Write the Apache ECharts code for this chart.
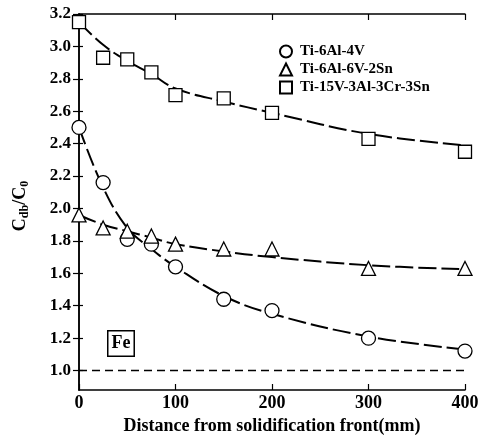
<!DOCTYPE html>
<html>
<head>
<meta charset="utf-8">
<script src="https://cdn.jsdelivr.net/npm/echarts@6/dist/echarts.min.js"></script>
<style>
  html, body { margin: 0; padding: 0; background: #fff; }
  #chart { width: 483px; height: 442px; }
</style>
</head>
<body>
<div id="chart"></div>
<script>
// distance from solidification front (mm)
const distances = [0, 25, 50, 75, 100, 150, 200, 300, 400]
// measured Cdb/C0
const ti64 = [2.50, 2.16, 1.81, 1.78, 1.64, 1.44, 1.37, 1.20, 1.12]
const ti662 = [1.96, 1.88, 1.86, 1.83, 1.78, 1.75, 1.75, 1.63, 1.63]
const ti15333 = [3.15, 2.93, 2.92, 2.84, 2.70, 2.68, 2.59, 2.43, 2.35]
// fitted curves
const ti64Fit = [2.50, 2.13, 1.88, 1.75, 1.64, 1.46, 1.35, 1.21, 1.13]
const ti662Fit = [1.96, 1.90, 1.86, 1.82, 1.78, 1.735, 1.70, 1.65, 1.625]
const ti15333Fit = [3.15, 3.01, 2.91, 2.83, 2.74, 2.66, 2.59, 2.46, 2.39]
const yTicks = [1.0, 1.2, 1.4, 1.6, 1.8, 2.0, 2.2, 2.4, 2.6, 2.8, 3.0, 3.2]
const xTicks = [0, 100, 200, 300, 400]
const baseLine = 1.0

const names = ['Ti-6Al-4V', 'Ti-6Al-6V-2Sn', 'Ti-15V-3Al-3Cr-3Sn']
const FONT = '"Liberation Serif", "Times New Roman", serif'

const pairs = arr => distances.map((x, i) => [x, arr[i]])

const chart = echarts.init(document.getElementById('chart'))

const axisLine = { show: true, lineStyle: { color: '#000', width: 1.5 } }
const tick = { show: true, inside: true, length: 6, lineStyle: { color: '#000', width: 1.2 } }

function fitSeries(data) {
  return {
    type: 'line',
    data: pairs(data),
    smooth: 0.4,
    showSymbol: false,
    symbol: 'none',
    silent: true,
    z: 1,
    lineStyle: { color: '#000', width: 2, type: [18, 5] }
  }
}

function pointSeries(name, data, symbol, size) {
  return {
    name: name,
    type: 'scatter',
    data: pairs(data),
    symbol: symbol,
    symbolSize: size,
    z: 3,
    itemStyle: { color: '#fff', borderColor: '#000', borderWidth: 1.3, opacity: 1 }
  }
}

chart.setOption({
  animation: false,
  grid: { left: 79, right: 18, top: 14, bottom: 52 },
  legend: {
    orient: 'vertical',
    left: 274,
    top: 39,
    itemGap: 3,
    itemWidth: 12,
    itemHeight: 12,
    data: names,
    textStyle: { fontFamily: FONT, fontWeight: 'bold', fontSize: 15, color: '#000', padding: [0, 0, 0, 3] }
  },
  xAxis: [{
    type: 'value',
    min: 0,
    max: 400,
    interval: 100,
    name: 'Distance from solidification front(mm)',
    nameLocation: 'middle',
    nameGap: 24,
    nameTextStyle: { fontFamily: FONT, fontWeight: 'bold', fontSize: 18, color: '#000' },
    axisLine: axisLine,
    axisTick: Object.assign({}, tick, { customValues: xTicks }),
    axisLabel: { customValues: xTicks, margin: 4, fontFamily: FONT, fontWeight: 'bold', fontSize: 18, color: '#000' },
    splitLine: { show: false }
  }, {
    type: 'value',
    position: 'top',
    min: 0,
    max: 400,
    interval: 100,
    axisLine: axisLine,
    axisTick: Object.assign({}, tick, { customValues: xTicks }),
    axisLabel: { show: false },
    splitLine: { show: false }
  }],
  yAxis: [{
    type: 'value',
    min: 0.88,
    max: 3.2,
    name: 'C{sub|db}/C{sub|0}',
    nameLocation: 'middle',
    nameRotate: 90,
    nameGap: 48,
    nameTextStyle: {
      fontFamily: FONT, fontWeight: 'bold', fontSize: 18, color: '#000',
      padding: [0, 8, 0, 0],
      rich: {
        sub: { fontFamily: FONT, fontWeight: 'bold', fontSize: 12, color: '#000', padding: [10, 0, 0, 0] }
      }
    },
    axisLine: axisLine,
    axisTick: Object.assign({}, tick, { customValues: yTicks, length: 4 }),
    axisLabel: {
      customValues: yTicks,
      margin: 8,
      fontFamily: FONT, fontWeight: 'bold', fontSize: 17, color: '#000',
      formatter: v => v.toFixed(1)
    },
    splitLine: { show: false }
  }, {
    type: 'value',
    position: 'right',
    min: 0.88,
    max: 3.2,
    axisLine: axisLine,
    axisTick: Object.assign({}, tick, { customValues: yTicks }),
    axisLabel: { show: false },
    splitLine: { show: false }
  }],
  graphic: [{
    type: 'text',
    left: 107,
    top: 330,
    z: 10,
    style: {
      text: 'Fe',
      font: 'bold 18px "Liberation Serif", serif',
      fill: '#000',
      backgroundColor: '#fff',
      borderColor: '#000',
      borderWidth: 1.5,
      padding: [3, 3, 3, 3]
    }
  }],
  series: [
    fitSeries(ti64Fit),
    fitSeries(ti662Fit),
    fitSeries(ti15333Fit),
    pointSeries(names[0], ti64, 'circle', 14),
    pointSeries(names[1], ti662, 'triangle', 14),
    pointSeries(names[2], ti15333, 'rect', 13),
    {
      type: 'line',
      data: [],
      silent: true,
      markLine: {
        symbol: 'none',
        silent: true,
        label: { show: false },
        lineStyle: { color: '#000', width: 1.3, type: [8, 5] },
        data: [{ yAxis: baseLine }]
      }
    }
  ]
})
</script>
</body>
</html>
